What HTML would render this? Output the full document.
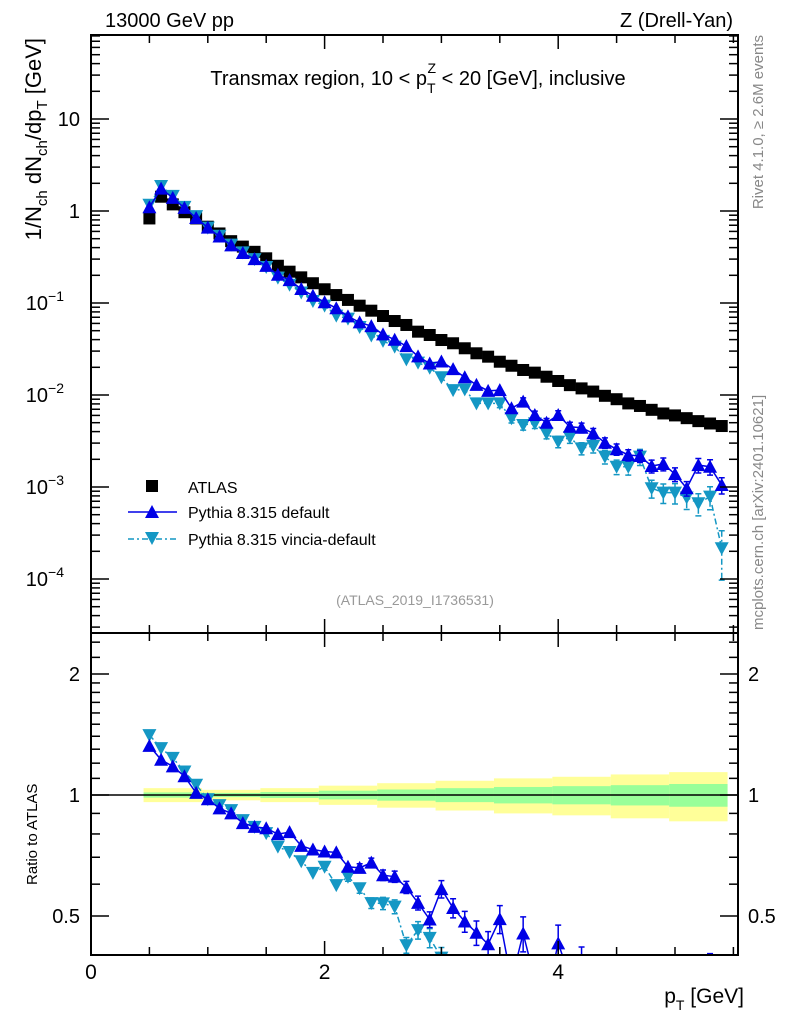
<!DOCTYPE html>
<html><head><meta charset="utf-8">
<style>
html,body{margin:0;padding:0;background:#fff;overflow:hidden;width:786px;height:1024px;}
svg{display:block;font-family:"Liberation Sans",Arial,sans-serif;}
</style></head>
<body>
<svg id="chart" width="786" height="1024" viewBox="0 0 786 1024" xmlns="http://www.w3.org/2000/svg">
<defs>
<clipPath id="clipMain"><rect x="91" y="35" width="647" height="598"/></clipPath>
<clipPath id="clipRatio"><rect x="91" y="633" width="647" height="322"/></clipPath>
</defs>
<g id="bands" clip-path="url(#clipRatio)"></g>
<g id="series"></g>
<rect x="91" y="35" width="647" height="598" fill="none" stroke="#000" stroke-width="2"/>
<rect x="91" y="633" width="647" height="322" fill="none" stroke="#000" stroke-width="2"/>
<g id="ticks"></g>
<text x="105" y="27" font-size="20">13000 GeV pp</text>
<text x="733" y="27" font-size="20" text-anchor="end">Z (Drell-Yan)</text>
<text x="418" y="85" font-size="20" text-anchor="middle">Transmax region, 10 &lt; p<tspan font-size="14" dy="8">T</tspan><tspan font-size="14" dx="-8" dy="-20">Z</tspan><tspan dy="12"> &lt; 20 [GeV], inclusive</tspan></text>
<text transform="translate(41,38) rotate(-90)" font-size="22" text-anchor="end">1/N<tspan font-size="15" dy="6">ch</tspan><tspan dy="-6"> dN</tspan><tspan font-size="15" dy="6">ch</tspan><tspan dy="-6">/dp</tspan><tspan font-size="15" dy="6">T</tspan><tspan dy="-6"> [GeV]</tspan></text>
<text transform="translate(37,885) rotate(-90)" font-size="15">Ratio to ATLAS</text>
<text x="744" y="1003" font-size="21" text-anchor="end">p<tspan font-size="14" dy="7">T</tspan><tspan dy="-7"> [GeV]</tspan></text>
<text transform="translate(763,35) rotate(-90)" font-size="15" fill="#888" text-anchor="end">Rivet 4.1.0, ≥ 2.6M events</text>
<text transform="translate(763,630) rotate(-90)" font-size="15" fill="#888">mcplots.cern.ch [arXiv:2401.10621]</text>
<text x="415" y="605" font-size="14" fill="#999" text-anchor="middle">(ATLAS_2019_I1736531)</text>
<g>
<rect x="146" y="480" width="12" height="12" fill="#000"/>
<text x="188" y="493" font-size="16">ATLAS</text>
<line x1="128" y1="512" x2="177" y2="512" stroke="#0000e6" stroke-width="1.5"/>
<polygon points="152,505 159,518 145,518" fill="#0000e6"/>
<text x="188" y="518" font-size="16">Pythia 8.315 default</text>
<line x1="128" y1="539" x2="177" y2="539" stroke="#1497c4" stroke-width="1.5" stroke-dasharray="6,3,2,3"/>
<polygon points="145,532 159,532 152,545" fill="#1497c4"/>
<text x="188" y="545" font-size="16">Pythia 8.315 vincia-default</text>
</g>
</svg>
<script>
const pT = [0.5,0.6,0.7,0.8,0.9,1.0,1.1,1.2,1.3,1.4,1.5,1.6,1.7,1.8,1.9,2.0,2.1,2.2,2.3,2.4,2.5,2.6,2.7,2.8,2.9,3.0,3.1,3.2,3.3,3.4,3.5,3.6,3.7,3.8,3.9,4.0,4.1,4.2,4.3,4.4,4.5,4.6,4.7,4.8,4.9,5.0,5.1,5.2,5.3,5.4];
const atlas = [0.83,1.43,1.18,0.97,0.83,0.675,0.57,0.47,0.41,0.36,0.306,0.254,0.219,0.19,0.164,0.141,0.122,0.108,0.0935,0.0825,0.0722,0.0637,0.0577,0.0488,0.0449,0.0396,0.0365,0.0322,0.0284,0.0261,0.023,0.0208,0.0187,0.0175,0.0158,0.0142,0.0128,0.0118,0.0109,0.0098,0.009,0.0081,0.0076,0.0069,0.0063,0.006,0.0056,0.0052,0.0049,0.0046];
const pythiaDefault = [1.10,1.75,1.39,1.08,0.84,0.659,0.528,0.423,0.349,0.300,0.253,0.203,0.177,0.142,0.120,0.102,0.0878,0.0716,0.0616,0.056,0.0456,0.0399,0.034,0.0263,0.022,0.0231,0.0191,0.0156,0.0129,0.0111,0.0113,0.00717,0.00846,0.00607,0.005,0.00607,0.00452,0.00441,0.00383,0.00303,0.00257,0.00223,0.00217,0.00169,0.00178,0.00138,0.00097,0.00173,0.00166,0.00105];
const pythiaVincia = [1.17,1.87,1.46,1.11,0.88,0.659,0.538,0.431,0.355,0.300,0.246,0.189,0.158,0.130,0.105,0.0935,0.0728,0.0676,0.0548,0.0444,0.0388,0.0336,0.0244,0.0225,0.0198,0.0156,0.0113,0.0115,0.0081,0.0081,0.0081,0.00558,0.00472,0.00492,0.00383,0.00311,0.00347,0.00263,0.00279,0.00214,0.00166,0.00166,0.00214,0.00097,0.00087,0.00087,0.00077,0.000665,0.000785,0.000216];
const relErrDefault = [0.01,0.01,0.01,0.01,0.01,0.01,0.01,0.01,0.01,0.01,0.012,0.012,0.014,0.015,0.016,0.018,0.02,0.022,0.024,0.026,0.03,0.032,0.035,0.04,0.045,0.05,0.055,0.06,0.07,0.075,0.08,0.09,0.1,0.1,0.11,0.11,0.12,0.12,0.13,0.13,0.14,0.14,0.15,0.16,0.16,0.17,0.18,0.18,0.19,0.2];
const relErrVincia = [0.01,0.01,0.01,0.01,0.01,0.01,0.01,0.01,0.01,0.012,0.013,0.014,0.015,0.017,0.019,0.02,0.022,0.025,0.028,0.03,0.035,0.04,0.045,0.05,0.055,0.06,0.065,0.07,0.08,0.09,0.1,0.11,0.12,0.12,0.13,0.14,0.14,0.15,0.16,0.17,0.18,0.19,0.2,0.22,0.24,0.25,0.26,0.27,0.28,0.55];
const bandEdges = [0.45,0.95,1.45,1.95,2.45,2.95,3.45,3.95,4.45,4.95,5.45];
const bandYellow = [0.04,0.03,0.04,0.055,0.07,0.085,0.1,0.11,0.125,0.14,0.147];
const bandGreen = [0.015,0.012,0.017,0.025,0.032,0.04,0.047,0.052,0.058,0.065,0.069];
const xTickLabels = ["0","2","4"];
const ratioTickLabels = ["0.5","1","2"];

const NS="http://www.w3.org/2000/svg";
const X0=91,X1=738,XMAX=(738-91)/116.8,RB=955;
const xs=v=>X0+v*116.8;
const yMain=v=>211-92*Math.log10(v);
const yRatio=r=>795-121*Math.log2(r);
function mk(tag,attrs,parent){const e=document.createElementNS(NS,tag);for(const k in attrs)e.setAttribute(k,attrs[k]);parent.appendChild(e);return e;}
const gB=document.getElementById('bands'),gT=document.getElementById('ticks'),gS=document.getElementById('series');

for(let i=0;i<bandEdges.length-1;i++){
  const xa=xs(bandEdges[i]),xb=xs(bandEdges[i+1]);
  const y1=yRatio(1+bandYellow[i]),y2=yRatio(1-bandYellow[i]);
  const r=mk('rect',{x:xa,y:y1,width:xb-xa,height:y2-y1,fill:'#ffff99'},gB);
  
  
}
for(let i=0;i<bandEdges.length-1;i++){
  const xa=xs(bandEdges[i]),xb=xs(bandEdges[i+1]);
  const y1=yRatio(1+bandGreen[i]),y2=yRatio(1-bandGreen[i]);
  const r=mk('rect',{x:xa,y:y1,width:xb-xa,height:y2-y1,fill:'#99ff99'},gB);
  
  
}
const one=mk('line',{x1:X0,x2:X1,y1:yRatio(1),y2:yRatio(1),stroke:'#000','stroke-width':1.5},gB);



for(let v=0;v<=XMAX+1e-9;v+=0.5){
  const x=xs(v),maj=Math.abs(v/2-Math.round(v/2))<1e-6,len=maj?14:8;
  for(const [yb,dir] of [[633,-1],[35,1],[RB,-1],[633,1]]){
    mk('line',{x1:x,x2:x,y1:yb,y2:yb+dir*len,stroke:'#000','stroke-width':1.5},gT);
  }
}
xTickLabels.forEach(l=>{
  const t=mk('text',{x:xs(parseFloat(l)),y:979,'font-size':21,'text-anchor':'middle'},gT);
  t.textContent=l;
  
  
});
for(let d=-5;d<=1;d++){
  for(let m=1;m<=9;m++){
    const v=m*Math.pow(10,d),y=yMain(v);
    if(y<35||y>633)continue;
    const len=m==1?18:9;
    mk('line',{x1:X0,x2:X0+len,y1:y,y2:y,stroke:'#000','stroke-width':1.5},gT);
    mk('line',{x1:X1,x2:X1-len,y1:y,y2:y,stroke:'#000','stroke-width':1.5},gT);
  }
}
const mainLabels=[[10,'10',null],[1,'1',null],[0.1,'10','−1'],[0.01,'10','−2'],[0.001,'10','−3'],[0.0001,'10','−4']];
mainLabels.forEach(([v,b,e])=>{
  const t=mk('text',{x:e?64:80,y:yMain(v)+7,'font-size':20,'text-anchor':'end'},gT);
  t.textContent=b;
  
  
  if(e){const s=mk('tspan',{'font-size':14,dy:-9},t);s.textContent=e;}
});
const rt=[0.4,0.5,0.6,0.7,0.8,0.9,1,2,1.1,1.2,1.3,1.4,1.5,1.6,1.7,1.8,1.9,2.2,2.4];
rt.forEach(r=>{
  const y=yRatio(r);if(y<633||y>RB)return;
  const maj=(r==0.5||r==1||r==2),len=maj?18:9;
  mk('line',{x1:X0,x2:X0+len,y1:y,y2:y,stroke:'#000','stroke-width':1.5},gT);
  mk('line',{x1:X1,x2:X1-len,y1:y,y2:y,stroke:'#000','stroke-width':1.5},gT);
});
ratioTickLabels.forEach(l=>{
  const y=yRatio(parseFloat(l))+7;
  const t=mk('text',{x:80,y:y,'font-size':20,'text-anchor':'end'},gT);t.textContent=l;
  
  
  const t2=mk('text',{x:748,y:y,'font-size':20},gT);t2.textContent=l;
  
  
});

function tri(x,y,down){const s=7;return down?`${x-s},${y-6} ${x+s},${y-6} ${x},${y+7}`:`${x},${y-7} ${x+s},${y+6} ${x-s},${y+6}`;}
function drawSeries(vals,errs,color,down,dash,name,fy,clip,toRatio){
  const g=mk('g',{'clip-path':`url(#${clip})`},gS);
  
  
  const pts=vals.map((v,i)=>{const val=toRatio?v/atlas[i]:v;return [xs(pT[i]),fy(val),fy(val*(1+errs[i])),fy(val*Math.max(1-errs[i],1e-6))];});
  const pl=mk('polyline',{points:pts.map(p=>p[0]+','+p[1]).join(' '),fill:'none',stroke:color,'stroke-width':1.5},g);
  if(dash)pl.setAttribute('stroke-dasharray',dash);
  pts.forEach(p=>{
    if(p[2]<p[1]-4||p[3]>p[1]+4){
      const e=mk('path',{d:`M${p[0]},${p[2]}V${p[3]}M${p[0]-3},${p[2]}H${p[0]+3}M${p[0]-3},${p[3]}H${p[0]+3}`,stroke:color,'stroke-width':1.5,fill:'none'},g);
      if(dash)e.setAttribute('stroke-dasharray',dash);
    }
    const m=mk('polygon',{points:tri(p[0],p[1],down),fill:color},g);
    
    
  });
}
const ga=mk('g',{'clip-path':'url(#clipMain)'},gS);


atlas.forEach((v,i)=>{
  const r=mk('rect',{x:xs(pT[i])-6,y:yMain(v)-6,width:12,height:12,fill:'#000'},ga);
  
  
});
drawSeries(pythiaVincia,relErrVincia,'#1497c4',true,'6,3,2,3','vincia-series',yMain,'clipMain',false);
drawSeries(pythiaDefault,relErrDefault,'#0000e6',false,null,'default-series',yMain,'clipMain',false);
drawSeries(pythiaVincia,relErrVincia,'#1497c4',true,'6,3,2,3','vincia-ratio',yRatio,'clipRatio',true);
drawSeries(pythiaDefault,relErrDefault,'#0000e6',false,null,'default-ratio',yRatio,'clipRatio',true);
</script>
</body></html>
